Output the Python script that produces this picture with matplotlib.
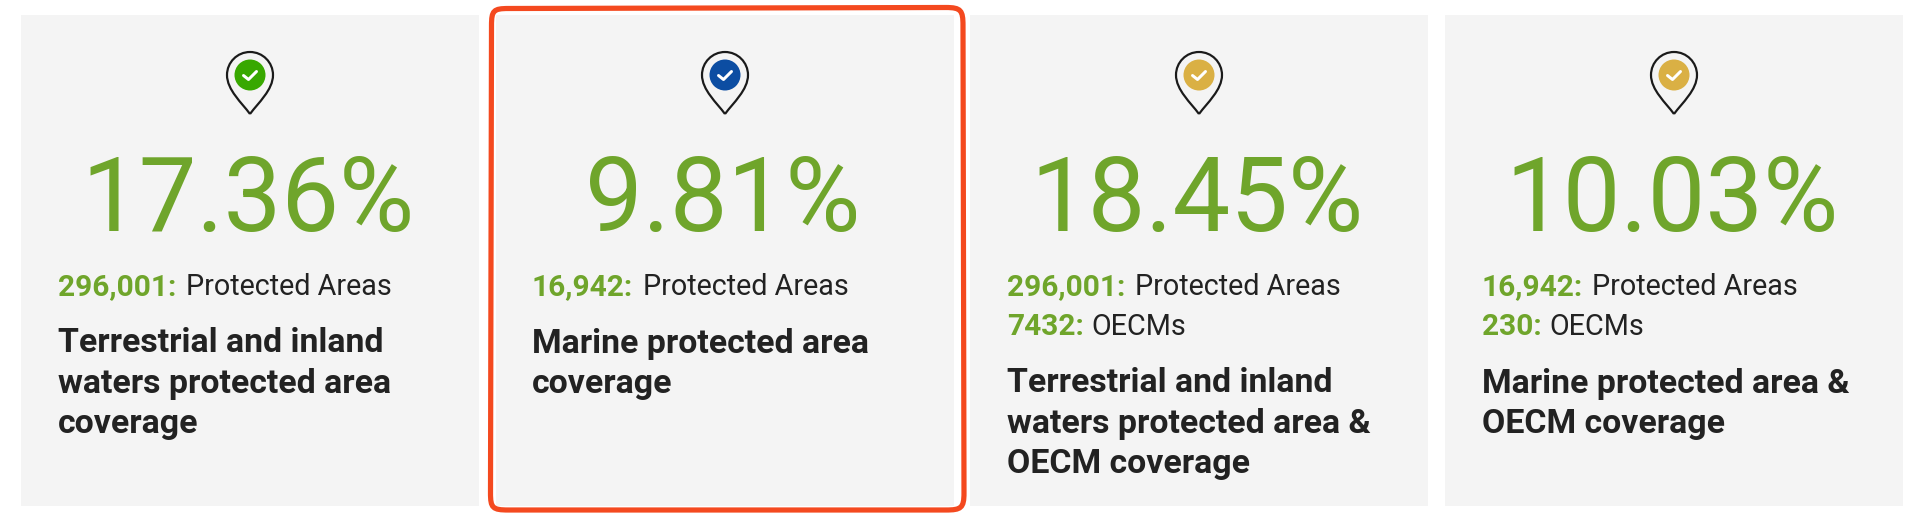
import matplotlib
matplotlib.use("Agg")
import matplotlib.pyplot as plt
from matplotlib.patches import Rectangle, Circle, PathPatch
from matplotlib.path import Path

coverage = ["17.36%", "9.81%", "18.45%", "10.03%"]
pa_counts = ["296,001:", "16,942:", "296,001:", "16,942:"]
oecm_counts = [None, None, "7432:", "230:"]
titles = [
    ["Terrestrial and inland", "waters protected area", "coverage"],
    ["Marine protected area", "coverage"],
    ["Terrestrial and inland", "waters protected area &", "OECM coverage"],
    ["Marine protected area &", "OECM coverage"],
]
pin_colors = ["#38A800", "#0C4DA2", "#DAB044", "#DAB044"]

GREEN = "#6FA52B"
DARK = "#222222"
CARD = "#F4F4F4"
FONT = "Roboto"
PT = 72 / 100

card_left = [21, 496, 970, 1445]
text_left = [58, 532, 1007, 1482]
pa_label_x = [186, 643, 1135, 1592]
oecm_label_x = [None, None, 1091, 1549]
card_w = 458

fig = plt.figure(figsize=(19.2, 5.23), dpi=100, facecolor="white")
ax = fig.add_axes([0, 0, 1, 1])
ax.set_xlim(0, 1920)
ax.set_ylim(523, 0)
ax.axis("off")


def pin(cx, color):
    cy, r, tip = 75, 23, 114
    k = 0.5523 * r
    verts = [
        (cx, tip),
        (cx - 8, tip - 11), (cx - r, tip - 24), (cx - r, cy),
        (cx - r, cy - k), (cx - k, cy - r), (cx, cy - r),
        (cx + k, cy - r), (cx + r, cy - k), (cx + r, cy),
        (cx + r, tip - 24), (cx + 8, tip - 11), (cx, tip),
    ]
    codes = [Path.MOVETO] + [Path.CURVE4] * 12
    ax.add_patch(PathPatch(Path(verts, codes), fc="none", ec="#1A1A1A",
                           lw=2.2 * PT, joinstyle="round"))
    ax.add_patch(Circle((cx, cy), 15.5, fc=color, ec="none"))
    ax.plot([cx - 6.5, cx - 1.5, cx + 6.5], [cy + 0.5, cy + 4.5, cy - 3.5],
            color="white", lw=3 * PT, solid_capstyle="round",
            solid_joinstyle="round")


def border():
    x0, x1, y0, y1, r = 491.5, 963, 8.5, 510, 17
    verts = [
        (x0 + r, y0), (x1 - r, y0 - 1),
        (x1 - 2, y0 - 1), (x1, y0 + 2), (x1, y0 + r),
        (x1 + 1, y1 - r), (x1 + 1, y1 - 2), (x1 - 2, y1), (x1 - r, y1),
        (x0 + r, y1), (x0 + 1, y1), (x0 - 1, y1 - 2), (x0 - 1, y1 - r),
        (x0, y0 + r), (x0, y0 + 2), (x0 + 2, y0), (x0 + r, y0),
    ]
    codes = [Path.MOVETO, Path.LINETO,
             Path.CURVE4, Path.CURVE4, Path.CURVE4,
             Path.LINETO, Path.CURVE4, Path.CURVE4, Path.CURVE4,
             Path.LINETO, Path.CURVE4, Path.CURVE4, Path.CURVE4,
             Path.LINETO, Path.CURVE4, Path.CURVE4, Path.CURVE4]
    ax.add_patch(PathPatch(Path(verts, codes), fc="none", ec="#F4491F",
                           lw=5.2 * PT, joinstyle="round", zorder=5))


for i in range(4):
    x = card_left[i]
    cx = x + card_w / 2
    ax.add_patch(Rectangle((x, 15), card_w, 491, fc=CARD, ec="none"))
    pin(cx, pin_colors[i])
    ax.text(cx - 2, 231, coverage[i], color=GREEN, family=FONT, weight="regular",
            fontsize=74, ha="center", va="baseline")
    left = text_left[i]
    ax.text(left, 295, pa_counts[i], color=GREEN, family=FONT, weight="bold",
            fontsize=21.5, ha="left", va="baseline")
    ax.text(pa_label_x[i], 295, "Protected Areas", color=DARK, family=FONT,
            weight="regular", fontsize=20.7, ha="left", va="baseline")
    y = 352.5
    if oecm_counts[i]:
        ax.text(left, 335, oecm_counts[i], color=GREEN, family=FONT,
                weight="bold", fontsize=21.5, ha="left", va="baseline")
        ax.text(oecm_label_x[i], 335, "OECMs", color=DARK, family=FONT,
                weight="regular", fontsize=20.7, ha="left", va="baseline")
        y = 392.5
    for line in titles[i]:
        ax.text(left, y, line, color=DARK, family=FONT, weight="bold",
                fontsize=24.4, ha="left", va="baseline")
        y += 40.5

border()
fig.savefig("out.png", dpi=100, facecolor="white")
